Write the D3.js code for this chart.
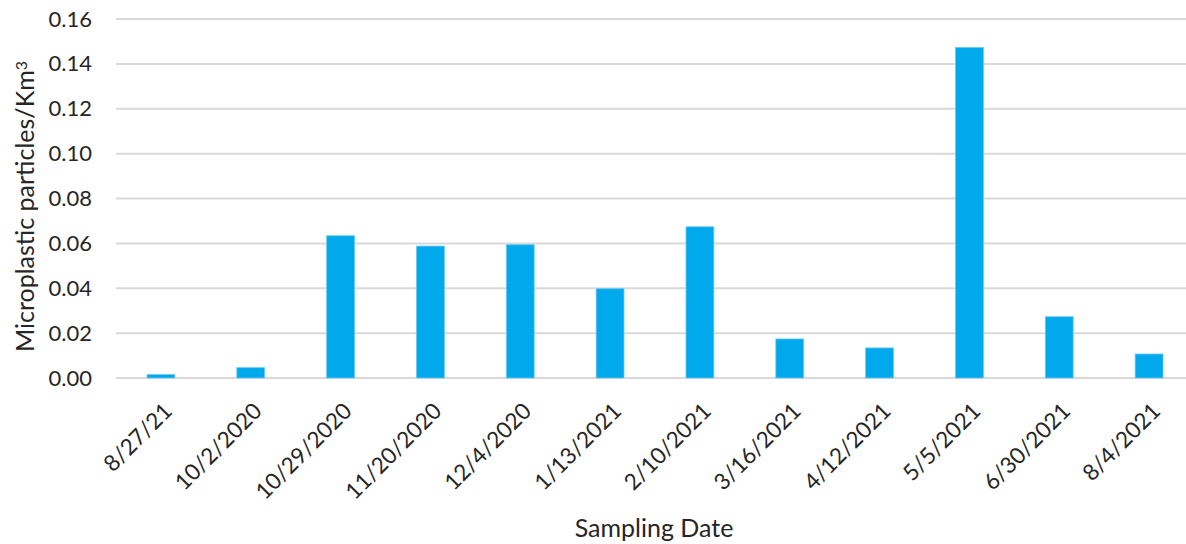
<!DOCTYPE html>
<html>
<head>
<meta charset="utf-8">
<script src="https://cdn.jsdelivr.net/npm/d3@7"></script>
<style>
  html, body { margin: 0; padding: 0; background: #fff; }
  svg { display: block; }
  text { font-family: Lato, "Open Sans", sans-serif; fill: #262626; }
</style>
</head>
<body>
<svg id="chart" width="1186" height="544"></svg>
<script>
// Sampling dates and microplastic concentration (particles per km³)
const dates = ["8/27/21", "10/2/2020", "10/29/2020", "11/20/2020", "12/4/2020", "1/13/2021",
               "2/10/2021", "3/16/2021", "4/12/2021", "5/5/2021", "6/30/2021", "8/4/2021"];
const concentrations = [0.0015, 0.0046, 0.0634, 0.0588, 0.0594, 0.0398,
                        0.0674, 0.0174, 0.0134, 0.1473, 0.0273, 0.0107];
const yTickValues = [0, 0.02, 0.04, 0.06, 0.08, 0.10, 0.12, 0.14, 0.16];

const W = 1186, H = 544;
const plot = { left: 116, right: 1194, top: 19, bottom: 378 };

const svg = d3.select("#chart");

const x = d3.scaleBand()
  .domain(dates)
  .range([plot.left, plot.right])
  .paddingInner(0.69)
  .paddingOuter(0.345);

const y = d3.scaleLinear()
  .domain([0, 0.16])
  .range([plot.bottom, plot.top]);

// Horizontal gridlines
svg.append("g")
  .selectAll("line")
  .data(yTickValues)
  .join("line")
  .attr("x1", plot.left)
  .attr("x2", W)
  .attr("y1", d => y(d))
  .attr("y2", d => y(d))
  .attr("stroke", "#d9d9d9")
  .attr("stroke-width", 2);

// Y axis tick labels
const yAxis = d3.axisLeft(y)
  .tickValues(yTickValues)
  .tickFormat(d3.format(".2f"))
  .tickSize(0)
  .tickPadding(24);
const gy = svg.append("g")
  .attr("transform", `translate(${plot.left},0)`)
  .call(yAxis);
gy.select(".domain").remove();
gy.selectAll("text")
  .style("font-family", "Lato, 'Open Sans', sans-serif")
  .style("font-size", "22px")
  .attr("fill", "#262626");

// Bars
svg.append("g")
  .selectAll("rect")
  .data(dates.map((d, i) => ({ date: d, value: concentrations[i] })))
  .join("rect")
  .attr("x", d => x(d.date))
  .attr("width", x.bandwidth())
  .attr("y", d => y(d.value))
  .attr("height", d => y(0) - y(d.value))
  .attr("fill", "#00a8ec")
  .attr("stroke", "#6cc9f2")
  .attr("stroke-width", 0.8);

// X axis date labels, rotated
const xAxis = d3.axisBottom(x).tickSize(0).tickPadding(0);
const gx = svg.append("g")
  .attr("transform", `translate(0,${plot.bottom})`)
  .call(xAxis);
gx.select(".domain").remove();
gx.selectAll("text")
  .style("font-family", "Lato, 'Open Sans', sans-serif")
  .style("font-size", "22.5px")
  .attr("fill", "#262626")
  .attr("text-anchor", "end")
  .attr("dy", "0.35em")
  .attr("transform", "translate(7,29) rotate(-45)");

// Axis titles
svg.append("text")
  .attr("x", 654)
  .attr("y", 537)
  .attr("text-anchor", "middle")
  .style("font-size", "25px")
  .text("Sampling Date");

const yTitle = svg.append("text")
  .attr("transform", `translate(34,${(plot.top + plot.bottom) / 2 + 8}) rotate(-90)`)
  .attr("text-anchor", "middle")
  .style("font-size", "25px");
yTitle.append("tspan").text("Microplastic particles/Km");
yTitle.append("tspan").attr("dy", "-0.45em").style("font-size", "16px").text("3");
</script>
</body>
</html>
